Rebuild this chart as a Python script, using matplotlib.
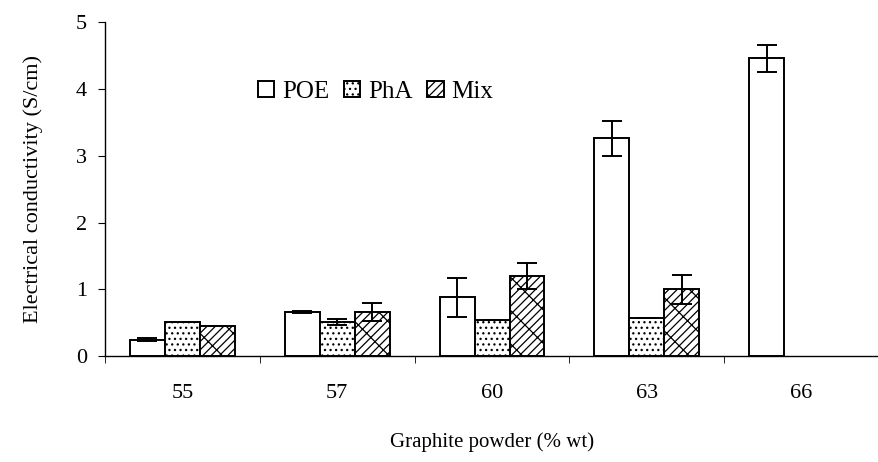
import numpy as np
import matplotlib
matplotlib.use("Agg")
import matplotlib.pyplot as plt
from matplotlib.ticker import FixedLocator, NullFormatter

plt.rcParams['font.family'] = ['Liberation Serif', 'DejaVu Serif']
plt.rcParams['hatch.linewidth'] = 0.9

# Conductivity data (S/cm) for each graphite loading
graphite = ['55', '57', '60', '63', '66']
poe = [0.25, 0.66, 0.88, 3.26, 4.46]
poe_err = [0.02, 0.01, 0.29, 0.26, 0.20]
pha = [0.51, 0.51, 0.54, 0.57, np.nan]
pha_err = [0.0, 0.05, 0.0, 0.0, 0.0]
mix = [0.45, 0.66, 1.20, 1.00, np.nan]
mix_err = [0.0, 0.13, 0.19, 0.22, 0.0]

fig = plt.figure(figsize=(8.79, 4.62), dpi=100)
ax = fig.add_axes([0.1195, 0.229, 0.8805, 0.723])

x = np.arange(len(graphite))
w = 0.226
err_kw = dict(ecolor='black', elinewidth=1.4, capsize=7, capthick=1.4)

ax.bar(x - w, poe, w, yerr=poe_err, color='white', edgecolor='black',
       linewidth=1.4, label='POE', error_kw=err_kw)
ax.bar(x, pha, w, yerr=pha_err, color='white', edgecolor='black',
       linewidth=1.4, hatch='...', label='PhA', error_kw=err_kw)
ax.bar(x + w, mix, w, yerr=mix_err, color='white', edgecolor='black',
       linewidth=1.4, hatch='////\\', label='Mix', error_kw=err_kw)

ax.set_xlim(-0.5, len(graphite) - 0.5)
ax.set_ylim(0, 5)
ax.set_yticks(range(0, 6))
ax.set_xticks(x)
ax.set_xticklabels(graphite)
ax.xaxis.set_minor_locator(FixedLocator(np.arange(-0.5, len(graphite), 1.0)))
ax.xaxis.set_minor_formatter(NullFormatter())
ax.tick_params(axis='x', which='major', length=0, pad=20, labelsize=16)
ax.tick_params(axis='x', which='minor', length=5, direction='out')
ax.tick_params(axis='y', length=5, direction='out', labelsize=16, pad=8)

for s in ['top', 'right']:
    ax.spines[s].set_visible(False)
for s in ['left', 'bottom']:
    ax.spines[s].set_linewidth(1.0)

ax.set_ylabel('Electrical conductivity (S/cm)', fontsize=16, labelpad=24)
ax.set_xlabel('Graphite powder (% wt)', fontsize=15, labelpad=21)

ax.legend(loc='upper left', bbox_to_anchor=(0.185, 0.855), ncol=3, frameon=False,
          fontsize=18, handlelength=0.65, handleheight=0.65, handletextpad=0.3,
          columnspacing=0.6, borderaxespad=0)

fig.savefig('out.png', dpi=100)
